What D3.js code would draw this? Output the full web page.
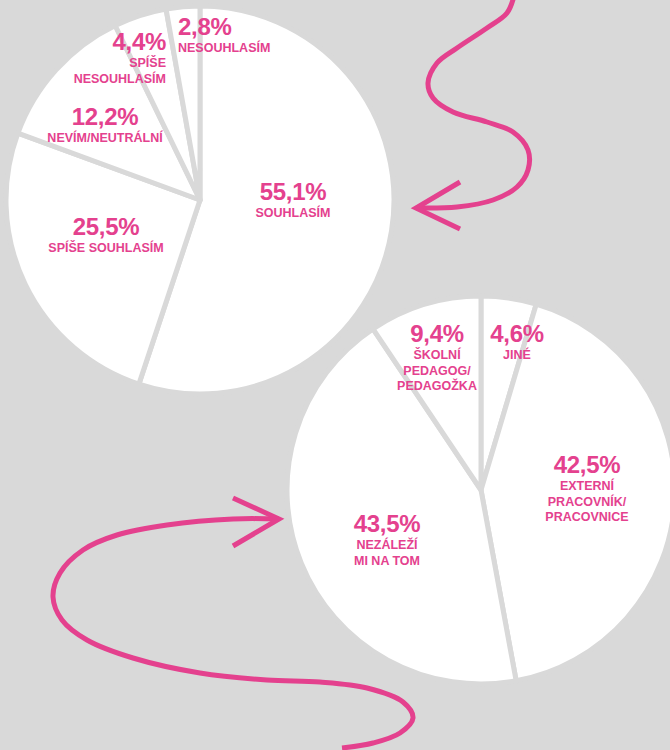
<!DOCTYPE html>
<html>
<head>
<meta charset="utf-8">
<script src="https://cdn.jsdelivr.net/npm/d3@7"></script>
<style>
  html, body { margin: 0; padding: 0; background: #d9d9d9; }
  svg { display: block; }
  text { font-family: "Liberation Sans", Arial, sans-serif; font-weight: bold; fill: #e4418e; }
</style>
</head>
<body>
<script>
// pie 1 - souhlas
var agreeLabels = [["SOUHLASÍM"], ["SPÍŠE SOUHLASÍM"], ["NEVÍM/NEUTRÁLNÍ"], ["SPÍŠE", "NESOUHLASÍM"], ["NESOUHLASÍM"]];
var agreeValues = [55.1, 25.5, 12.2, 4.4, 2.8];

// pie 2 - kdo
var whoLabels = [["JINÉ"], ["EXTERNÍ", "PRACOVNÍK/", "PRACOVNICE"], ["NEZÁLEŽÍ", "MI NA TOM"], ["ŠKOLNÍ", "PEDAGOG/", "PEDAGOŽKA"]];
var whoValues = [4.6, 42.5, 43.5, 9.4];

var width = 670, height = 750;
var pink = "#e4418e", bg = "#d9d9d9";

// label placement relative to pie center (dx, dy, anchor)
var agreeLabelPos = [[93, 0, "middle"], [-94, 35, "middle"], [-95, -75, "middle"], [-34, -150, "end"], [-22, -165, "start"]];
var whoLabelPos = [[36, -148, "middle"], [106, -17, "middle"], [-94, 42, "middle"], [-44, -148, "middle"]];

var cz = d3.formatLocale({decimal: ",", thousands: " ", grouping: [3], currency: ["", " Kč"]});
var fmt = cz.format(".1f");

var svg = d3.select("body").append("svg")
    .attr("width", width)
    .attr("height", height);

function drawPie(cx, cy, r, values, labels, pos) {
    var pie = d3.pie().sort(null).startAngle(0).endAngle(2 * Math.PI);
    var arc = d3.arc().innerRadius(0).outerRadius(r);
    var g = svg.append("g").attr("transform", "translate(" + cx + "," + cy + ")");

    g.selectAll("path")
        .data(pie(values))
        .enter().append("path")
        .attr("d", arc)
        .attr("fill", "#fff")
        .attr("stroke", bg)
        .attr("stroke-width", 5)
        .attr("stroke-linejoin", "round");

    var lab = g.selectAll("text")
        .data(values)
        .enter().append("text")
        .attr("text-anchor", function(d, i) { return pos[i][2]; })
        .attr("transform", function(d, i) { return "translate(" + pos[i][0] + "," + pos[i][1] + ")"; });

    lab.append("tspan")
        .attr("x", 0).attr("y", 0)
        .style("font-size", "24px")
        .style("letter-spacing", "-0.3px")
        .text(function(d) { return fmt(d) + "%"; });

    lab.each(function(d, i) {
        var t = d3.select(this);
        labels[i].forEach(function(line, j) {
            t.append("tspan")
                .attr("x", 0)
                .attr("y", 17 + j * 15.5)
                .style("font-size", "12.5px")
                .text(line);
        });
    });
}

// dekorativni sipky
var arrow1 = [[514, -4], [507, 13], [487, 28], [457, 48], [437, 63], [428, 83], [433, 98], [453, 112], [487, 122],
              [513, 132], [528, 150], [528, 170], [517, 187], [493, 200], [457, 207], [416, 208]];
var arrow1Head = [[460, 182], [416, 208], [460, 229]];
var arrow2 = [[279, 519], [233, 519], [167, 525], [117, 535], [83, 550], [60, 573], [53, 597], [62, 620], [87, 640],
              [133, 658], [200, 673], [267, 680], [320, 682], [367, 688], [403, 702], [413, 718], [400, 733], [373, 743], [342, 748]];
var arrow2Head = [[233, 498], [279, 519], [233, 546]];

var curve = d3.line().curve(d3.curveCatmullRom.alpha(0.5));
var straight = d3.line();

[[arrow1, curve], [arrow1Head, straight], [arrow2, curve], [arrow2Head, straight]].forEach(function(a) {
    svg.append("path")
        .attr("d", a[1](a[0]))
        .attr("fill", "none")
        .attr("stroke", pink)
        .attr("stroke-width", 5);
});

drawPie(200, 200, 194, agreeValues, agreeLabels, agreeLabelPos);
drawPie(481, 490, 194, whoValues, whoLabels, whoLabelPos);
</script>
</body>
</html>
